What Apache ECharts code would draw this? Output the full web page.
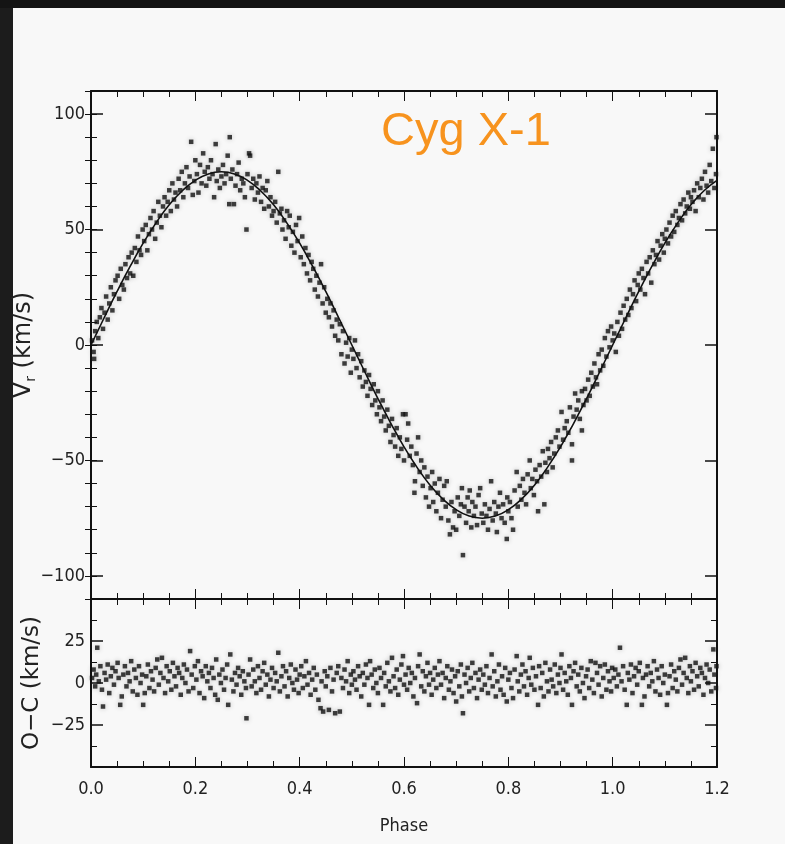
<!DOCTYPE html>
<html>
<head>
<meta charset="utf-8">
<script src="https://cdn.jsdelivr.net/npm/echarts@6/dist/echarts.min.js"></script>
<style>
html,body{margin:0;padding:0;background:#161616;}
#chart{width:785px;height:844px;}
</style>
</head>
<body>
<div id="chart"></div>
<script>
// ---- Data ----
const titleText = 'Cyg X-1';
const phaseTicks = [0.0, 0.2, 0.4, 0.6, 0.8, 1.0, 1.2];
const vrTicks = [-100, -50, 0, 50, 100];
const ocTicks = [-25, 0, 25];

// Fitted orbital curve (phase, km/s)
const curvePhase = [0,0.025,0.05,0.075,0.1,0.125,0.15,0.175,0.2,0.225,0.25,0.275,0.3,0.325,0.35,0.375,0.4,0.425,0.45,0.475,0.5,0.525,0.55,0.575,0.6,0.625,0.65,0.675,0.7,0.725,0.75,0.775,0.8,0.825,0.85,0.875,0.9,0.925,0.95,0.975,1.0,1.025,1.05,1.075,1.1,1.125,1.15,1.175,1.2];
const curveVr = [0,11.7,23.2,34,44.1,53,60.7,66.8,71.3,74.1,75,74.1,71.3,66.8,60.7,53,44.1,34,23.2,11.7,0,-11.7,-23.2,-34,-44.1,-53,-60.7,-66.8,-71.3,-74.1,-75,-74.1,-71.3,-66.8,-60.7,-53,-44.1,-34,-23.2,-11.7,0,11.7,23.2,34,44.1,53,60.7,66.8,71.3];

// Observed radial velocities (phase, km/s)
const vrPoints = [
[0.002,2],[0.005,-3],[0.006,-6],[0.008,6],[0.011,10],[0.014,3],[0.017,12],[0.02,16],[0.023,7],[0.026,14],[0.029,21],[0.032,11],[0.035,18],[0.038,25],[0.041,15],[0.044,22],[0.047,28],
[0.051,30],[0.054,20],[0.057,33],[0.06,26],[0.063,24],[0.066,35],[0.069,29],[0.072,38],[0.075,31],[0.078,40],[0.081,30],[0.084,42],[0.087,36],[0.09,47],[0.093,41],[0.096,39],[0.099,50],
[0.102,45],[0.105,52],[0.108,41],[0.111,48],[0.114,55],[0.117,50],[0.12,58],[0.123,46],[0.126,53],[0.129,62],[0.132,56],[0.135,51],[0.138,60],[0.141,64],[0.144,56],[0.147,62],[0.15,67],
[0.153,58],[0.156,70],[0.159,63],[0.162,66],[0.165,60],[0.168,72],[0.171,67],[0.174,75],[0.177,64],[0.18,70],[0.183,77],[0.186,68],[0.189,73],[0.192,88],[0.195,65],[0.198,71],[0.2,80],
[0.203,74],[0.206,66],[0.209,78],[0.212,70],[0.215,83],[0.218,75],[0.221,69],[0.224,77],[0.227,72],[0.23,80],[0.233,74],[0.236,64],[0.239,87],[0.241,71],[0.244,76],[0.247,68],[0.25,73],
[0.253,78],[0.256,70],[0.259,74],[0.262,82],[0.265,61],[0.266,90],[0.268,72],[0.271,76],[0.274,61],[0.277,69],[0.28,74],[0.283,79],[0.286,67],[0.289,72],[0.292,70],[0.295,64],[0.298,50],[0.3,74],
[0.303,83],[0.305,82],[0.308,68],[0.311,72],[0.314,63],[0.317,70],[0.32,66],[0.323,73],[0.326,62],[0.329,68],[0.332,59],[0.335,67],[0.338,71],[0.341,60],[0.344,64],[0.347,56],[0.35,58],
[0.353,62],[0.356,53],[0.359,75],[0.362,57],[0.365,59],[0.367,50],[0.37,54],[0.373,46],[0.376,58],[0.379,51],[0.381,56],[0.384,43],[0.387,49],[0.39,40],[0.393,52],[0.396,45],[0.399,55],
[0.402,38],[0.405,47],[0.408,35],[0.411,42],[0.414,31],[0.417,39],[0.42,28],[0.423,36],[0.426,33],[0.429,24],[0.432,30],[0.435,21],[0.438,27],[0.441,35],[0.444,18],[0.447,25],[0.45,14],
[0.453,20],[0.456,12],[0.459,18],[0.462,8],[0.465,15],[0.468,4],[0.471,11],[0.474,2],[0.477,9],[0.48,-4],[0.483,6],[0.486,-8],[0.489,1],[0.492,-5],[0.495,3],[0.498,-12],[0.5,-2],
[0.503,-6],[0.506,2],[0.509,-10],[0.512,-4],[0.515,-14],[0.518,-7],[0.521,-18],[0.524,-11],[0.527,-16],[0.53,-22],[0.533,-13],[0.536,-19],[0.539,-26],[0.542,-17],[0.545,-24],[0.548,-30],[0.55,-20],
[0.553,-27],[0.556,-33],[0.559,-24],[0.562,-31],[0.565,-37],[0.568,-28],[0.571,-35],[0.574,-42],[0.577,-32],[0.58,-39],[0.583,-44],[0.586,-36],[0.589,-48],[0.592,-40],[0.595,-45],[0.598,-30],[0.6,-50],
[0.603,-30],[0.606,-41],[0.608,-34],[0.611,-48],[0.614,-44],[0.617,-52],[0.62,-64],[0.621,-59],[0.624,-47],[0.627,-40],[0.63,-55],[0.633,-50],[0.636,-61],[0.639,-53],[0.642,-66],[0.645,-57],[0.648,-70],
[0.651,-62],[0.654,-55],[0.656,-68],[0.659,-60],[0.662,-72],[0.665,-64],[0.668,-58],[0.671,-75],[0.674,-67],[0.677,-61],[0.68,-70],[0.682,-59],[0.685,-76],[0.688,-82],[0.691,-68],[0.694,-79],[0.697,-72],[0.7,-80],
[0.703,-66],[0.706,-74],[0.709,-69],[0.711,-62],[0.713,-91],[0.716,-70],[0.719,-77],[0.722,-66],[0.724,-72],[0.726,-63],[0.729,-79],[0.731,-68],[0.734,-74],[0.737,-70],[0.74,-78],[0.743,-65],[0.746,-62],[0.749,-73],
[0.752,-77],[0.755,-69],[0.758,-74],[0.761,-80],[0.764,-71],[0.767,-59],[0.77,-76],[0.773,-68],[0.776,-73],[0.778,-81],[0.781,-70],[0.784,-64],[0.787,-75],[0.79,-69],[0.793,-77],[0.797,-84],[0.798,-66],[0.8,-72],
[0.803,-68],[0.806,-75],[0.809,-80],[0.812,-63],[0.816,-55],[0.818,-70],[0.822,-61],[0.825,-67],[0.828,-58],[0.831,-64],[0.834,-69],[0.837,-56],[0.841,-50],[0.843,-62],[0.846,-58],[0.849,-65],
[0.852,-54],[0.855,-59],[0.857,-72],[0.86,-52],[0.863,-57],[0.866,-46],[0.869,-69],[0.871,-51],[0.874,-55],[0.876,-45],[0.879,-49],[0.882,-42],[0.885,-53],[0.888,-47],[0.891,-40],[0.895,-37],[0.898,-44],
[0.902,-29],[0.905,-41],[0.908,-36],[0.912,-33],[0.915,-38],[0.918,-27],[0.922,-43],[0.922,-50],[0.925,-31],[0.928,-21],[0.931,-28],[0.934,-24],[0.937,-32],[0.941,-37],[0.941,-20],[0.944,-26],[0.947,-19],[0.95,-24],
[0.953,-15],[0.956,-22],[0.959,-12],[0.962,-18],[0.965,-8],[0.968,-14],[0.97,-17],[0.973,-4],[0.976,-11],[0.979,-2],[0.982,-9],[0.985,3],[0.988,-5],[0.991,6],[0.994,-1],[0.997,8],[1.0,2],
[1.003,5],[1.006,-3],[1.009,10],[1.012,4],[1.015,14],[1.018,7],[1.021,17],[1.024,11],[1.027,20],[1.03,13],[1.033,24],[1.036,16],[1.039,22],[1.042,28],[1.045,19],[1.048,26],[1.05,31],
[1.053,24],[1.056,33],[1.059,29],[1.062,22],[1.065,36],[1.068,31],[1.071,38],[1.074,27],[1.077,41],[1.08,35],[1.083,39],[1.086,45],[1.089,37],[1.092,43],[1.095,48],[1.098,40],[1.1,46],
[1.103,50],[1.106,44],[1.109,53],[1.112,47],[1.115,56],[1.118,49],[1.121,58],[1.124,52],[1.127,55],[1.13,61],[1.133,54],[1.136,63],[1.139,57],[1.142,60],[1.145,66],[1.148,59],[1.15,64],
[1.153,62],[1.156,67],[1.159,58],[1.162,70],[1.165,64],[1.168,68],[1.171,72],[1.174,63],[1.177,75],[1.18,69],[1.183,66],[1.186,78],[1.189,71],[1.192,85],[1.195,68],[1.198,74],[1.199,90]
];

// Residuals O-C (phase, km/s)
const ocPoints = [
[0.002,3],[0.005,8],[0.008,-2],[0.01,5],[0.012,21],[0.015,1],[0.018,10],[0.021,-4],[0.023,-14],[0.026,6],[0.029,2],[0.032,11],[0.035,-6],[0.038,4],[0.041,9],[0.044,-1],[0.047,7],
[0.051,12],[0.053,3],[0.056,-13],[0.059,-8],[0.062,5],[0.065,10],[0.068,-2],[0.071,6],[0.074,1],[0.077,13],[0.08,-5],[0.083,8],[0.086,3],[0.089,-7],[0.092,10],[0.095,0],[0.098,5],
[0.1,-13],[0.103,-6],[0.106,4],[0.109,11],[0.112,-3],[0.115,7],[0.118,2],[0.121,-5],[0.124,9],[0.127,14],[0.13,-1],[0.133,6],[0.136,15],[0.139,3],[0.142,-6],[0.145,10],[0.148,1],
[0.151,7],[0.154,-4],[0.157,12],[0.16,4],[0.163,-2],[0.166,9],[0.169,6],[0.172,-7],[0.175,3],[0.178,11],[0.181,0],[0.184,8],[0.187,-5],[0.19,19],[0.193,5],[0.196,-3],[0.199,10],
[0.202,2],[0.205,13],[0.208,-6],[0.211,7],[0.214,4],[0.217,-9],[0.22,10],[0.223,1],[0.226,6],[0.229,-3],[0.232,9],[0.235,3],[0.238,-7],[0.24,14],[0.243,-10],[0.246,5],[0.249,0],
[0.252,8],[0.255,-4],[0.258,3],[0.261,11],[0.263,-13],[0.267,17],[0.27,2],[0.273,-5],[0.276,6],[0.279,-1],[0.282,9],[0.285,4],[0.288,-7],[0.291,7],[0.294,1],[0.297,-3],[0.298,-21],
[0.302,5],[0.305,14],[0.308,-2],[0.311,8],[0.314,1],[0.317,-6],[0.32,10],[0.323,3],[0.326,-4],[0.329,7],[0.332,12],[0.335,-1],[0.338,5],[0.341,-8],[0.344,2],[0.347,9],[0.35,-3],
[0.353,6],[0.356,1],[0.359,18],[0.362,-5],[0.365,4],[0.368,10],[0.371,-2],[0.374,7],[0.377,-8],[0.38,3],[0.383,11],[0.386,0],[0.389,-4],[0.392,8],[0.395,2],[0.398,-6],[0.4,5],
[0.403,10],[0.406,-3],[0.409,4],[0.412,13],[0.415,-1],[0.418,6],[0.421,-7],[0.424,2],[0.427,9],[0.43,-4],[0.433,5],[0.436,-10],[0.44,-15],[0.442,1],[0.445,-17],[0.448,7],[0.45,-2],
[0.453,4],[0.456,-16],[0.459,9],[0.462,-5],[0.465,2],[0.468,-18],[0.471,6],[0.474,10],[0.477,-17],[0.48,3],[0.483,-3],[0.486,8],[0.489,1],[0.492,13],[0.495,-6],[0.498,5],[0.5,-1],
[0.503,7],[0.506,2],[0.509,-4],[0.512,10],[0.515,4],[0.518,-8],[0.521,6],[0.524,-1],[0.527,11],[0.53,3],[0.533,-13],[0.535,13],[0.538,5],[0.541,-3],[0.544,8],[0.547,0],[0.55,-6],
[0.553,9],[0.556,3],[0.56,-13],[0.562,6],[0.565,-2],[0.568,12],[0.571,1],[0.574,-5],[0.577,15],[0.58,4],[0.583,-3],[0.586,8],[0.589,-7],[0.592,2],[0.595,11],[0.598,16],[0.6,-1],
[0.603,5],[0.606,-4],[0.609,9],[0.612,0],[0.615,6],[0.618,-8],[0.621,3],[0.625,-12],[0.627,10],[0.63,17],[0.633,-2],[0.636,7],[0.639,-5],[0.642,4],[0.645,12],[0.648,-1],[0.65,6],
[0.653,-7],[0.656,2],[0.659,9],[0.662,-3],[0.665,5],[0.668,13],[0.671,-1],[0.674,6],[0.677,-9],[0.68,3],[0.683,10],[0.686,-4],[0.689,1],[0.692,8],[0.695,-6],[0.698,4],[0.7,-11],
[0.703,7],[0.706,-2],[0.709,11],[0.711,-8],[0.713,-18],[0.716,5],[0.719,0],[0.722,9],[0.725,-5],[0.728,3],[0.731,12],[0.734,-3],[0.737,6],[0.74,-9],[0.743,2],[0.746,8],[0.749,-4],
[0.752,5],[0.755,-1],[0.758,10],[0.761,-6],[0.764,3],[0.768,17],[0.77,-2],[0.773,7],[0.776,-8],[0.779,1],[0.782,11],[0.785,-4],[0.788,4],[0.791,-7],[0.794,9],[0.797,-11],[0.8,2],
[0.803,6],[0.806,-3],[0.809,-9],[0.812,8],[0.816,16],[0.818,1],[0.821,-5],[0.824,5],[0.827,11],[0.83,-2],[0.833,7],[0.836,-7],[0.839,3],[0.841,15],[0.844,-1],[0.847,9],[0.85,-4],
[0.853,4],[0.857,-13],[0.859,10],[0.862,-3],[0.865,6],[0.868,-8],[0.871,12],[0.874,1],[0.877,-5],[0.88,8],[0.883,2],[0.886,-2],[0.889,11],[0.892,-6],[0.895,5],[0.898,0],[0.9,9],
[0.902,17],[0.905,-4],[0.908,6],[0.911,1],[0.914,-7],[0.917,10],[0.92,3],[0.922,-13],[0.925,7],[0.928,12],[0.931,-2],[0.934,5],[0.937,-5],[0.94,9],[0.943,0],[0.946,-9],[0.949,4],
[0.952,8],[0.955,-3],[0.958,13],[0.961,2],[0.964,-6],[0.967,12],[0.97,6],[0.973,-1],[0.976,10],[0.979,-8],[0.982,3],[0.985,11],[0.988,-4],[0.991,7],[0.994,1],[0.997,-5],[0.999,9],
[1.002,3],[1.005,8],[1.008,-2],[1.011,5],[1.014,21],[1.017,1],[1.02,10],[1.023,-4],[1.027,-13],[1.029,6],[1.032,2],[1.035,11],[1.038,-6],[1.041,4],[1.044,9],[1.047,-1],[1.05,7],
[1.052,12],[1.056,-13],[1.058,3],[1.061,-8],[1.064,5],[1.067,10],[1.07,-2],[1.073,6],[1.076,1],[1.079,13],[1.082,-5],[1.085,8],[1.088,3],[1.091,-7],[1.094,10],[1.097,0],[1.1,5],
[1.104,-13],[1.106,-6],[1.109,4],[1.112,11],[1.115,-3],[1.118,7],[1.121,2],[1.124,-5],[1.127,9],[1.13,14],[1.133,-1],[1.136,6],[1.139,15],[1.142,3],[1.145,-6],[1.148,10],[1.15,1],
[1.153,7],[1.156,-4],[1.159,12],[1.162,4],[1.165,-2],[1.168,9],[1.171,6],[1.174,-7],[1.177,3],[1.18,11],[1.183,0],[1.186,8],[1.189,-5],[1.193,20],[1.195,5],[1.198,-3],[1.199,10]
];

// ---- Chart ----
const FONT = "'DejaVu Sans Condensed','Liberation Sans Narrow','Liberation Sans',sans-serif";
const NAMEFONT = "'DejaVu Sans','Liberation Sans',sans-serif";
const INK = '#111';
const chart = echarts.init(document.getElementById('chart'), null, {renderer: 'canvas'});

const lineStyleAxis = {color: INK, width: 2};
const majorLen = 12, minorLen = 6;

function xAx(gridIndex, position, showLabels) {
  return {
    type: 'value', gridIndex, position, min: 0, max: 1.2, interval: 0.2,
    axisLine: {show: true, onZero: false, lineStyle: lineStyleAxis},
    axisTick: {show: true, inside: true, length: 10, lineStyle: {color: INK, width: 1}},
    minorTick: {show: true, splitNumber: 4, length: minorLen, lineStyle: {color: INK, width: 1}},
    splitLine: {show: false}, minorSplitLine: {show: false},
    axisLabel: {show: showLabels, margin: 13, fontFamily: FONT, fontSize: 18, color: '#222',
      formatter: v => { const t = phaseTicks.find(p => Math.abs(p - v) < 1e-6); return t === undefined ? '' : t.toFixed(1); }},
    name: showLabels ? 'Phase' : '', nameLocation: 'middle', nameGap: 50, nameMoveOverlap: false,
    nameTextStyle: {fontFamily: FONT, fontSize: 18, color: '#222'}
  };
}

const option = {
  backgroundColor: '#1c1c1c',
  animation: false,
  graphic: [
    {type: 'rect', left: 0, top: 0, shape: {width: 785, height: 8}, style: {fill: '#141414'}, z: -10},
    {type: 'rect', left: 13, top: 8, shape: {width: 772, height: 836}, style: {fill: '#f8f8f8'}, z: -10}
  ],
  title: {
    text: titleText, left: 376, top: 104,
    textStyle: {color: '#f7931e', fontSize: 47, fontWeight: 'normal', fontFamily: "'Liberation Sans',Arial,sans-serif"}
  },
  grid: [
    {left: 91, top: 91, width: 626, height: 508, show: false, containLabel: false, outerBoundsMode: 'none'},
    {left: 91, top: 599, width: 626, height: 168, show: false, containLabel: false, outerBoundsMode: 'none'}
  ],
  xAxis: [
    xAx(0, 'bottom', false),
    xAx(0, 'top', false),
    xAx(1, 'bottom', true),
    xAx(1, 'top', false)
  ],
  yAxis: [
    { // 0: top panel left, major ticks + labels
      type: 'value', gridIndex: 0, position: 'left', min: -110, max: 110,
      axisLine: {show: true, onZero: false, lineStyle: lineStyleAxis},
      axisTick: {show: true, inside: true, length: majorLen, customValues: vrTicks, lineStyle: {color: INK, width: 1.5}},
      axisLabel: {show: true, customValues: vrTicks, margin: 6, fontFamily: FONT, fontSize: 18, color: '#222',
        formatter: v => String(v).replace('-', '\u2212')},
      splitLine: {show: false},
      name: 'V{s|r} (km/s)', nameLocation: 'middle', nameGap: 53, nameRotate: 90, nameMoveOverlap: false,
      nameTextStyle: {fontFamily: NAMEFONT, fontSize: 24, color: '#222',
        rich: {s: {fontFamily: NAMEFONT, fontSize: 14, color: '#222', verticalAlign: 'bottom', lineHeight: 28}}}
    },
    { // 1: top panel left, minor ticks
      type: 'value', gridIndex: 0, position: 'left', min: -110, max: 110, interval: 10,
      axisLine: {show: false},
      axisTick: {show: true, inside: true, length: minorLen, lineStyle: {color: INK, width: 1}},
      axisLabel: {show: false}, splitLine: {show: false}
    },
    { // 2: top panel right, major
      type: 'value', gridIndex: 0, position: 'right', min: -110, max: 110,
      axisLine: {show: true, onZero: false, lineStyle: lineStyleAxis},
      axisTick: {show: true, inside: true, length: majorLen, customValues: vrTicks, lineStyle: {color: INK, width: 1.5}},
      axisLabel: {show: false}, splitLine: {show: false}
    },
    { // 3: top panel right, minor
      type: 'value', gridIndex: 0, position: 'right', min: -110, max: 110, interval: 10,
      axisLine: {show: false},
      axisTick: {show: true, inside: true, length: minorLen, lineStyle: {color: INK, width: 1}},
      axisLabel: {show: false}, splitLine: {show: false}
    },
    { // 4: residual panel left
      type: 'value', gridIndex: 1, position: 'left', min: -50, max: 50, interval: 25,
      axisLine: {show: true, onZero: false, lineStyle: lineStyleAxis},
      axisTick: {show: true, inside: true, length: majorLen, lineStyle: {color: INK, width: 1.5}},
      minorTick: {show: true, splitNumber: 2, length: minorLen, lineStyle: {color: INK, width: 1}},
      axisLabel: {show: true, margin: 6, fontFamily: FONT, fontSize: 18, color: '#222',
        formatter: v => ocTicks.indexOf(v) >= 0 ? String(v).replace('-', '\u2212') : ''},
      splitLine: {show: false}, minorSplitLine: {show: false},
      name: 'O\u2212C (km/s)', nameLocation: 'middle', nameGap: 47, nameRotate: 90, nameMoveOverlap: false,
      nameTextStyle: {fontFamily: NAMEFONT, fontSize: 23, color: '#222'}
    },
    { // 5: residual panel right
      type: 'value', gridIndex: 1, position: 'right', min: -50, max: 50, interval: 25,
      axisLine: {show: true, onZero: false, lineStyle: lineStyleAxis},
      axisTick: {show: true, inside: true, length: majorLen, lineStyle: {color: INK, width: 1.5}},
      minorTick: {show: true, splitNumber: 2, length: minorLen, lineStyle: {color: INK, width: 1}},
      axisLabel: {show: false}, splitLine: {show: false}, minorSplitLine: {show: false}
    }
  ],
  series: [
    {
      type: 'scatter', xAxisIndex: 0, yAxisIndex: 0, data: vrPoints,
      symbol: 'rect', symbolSize: [4.5, 4.5],
      itemStyle: {color: INK, shadowBlur: 5, shadowColor: 'rgba(0,0,0,0.3)'},
      silent: true, z: 3
    },
    {
      type: 'line', xAxisIndex: 0, yAxisIndex: 0,
      data: curvePhase.map((p, i) => [p, curveVr[i]]),
      smooth: true, showSymbol: false, symbol: 'none',
      lineStyle: {color: INK, width: 1.6}, silent: true, z: 4
    },
    {
      type: 'scatter', xAxisIndex: 2, yAxisIndex: 4, data: ocPoints,
      symbol: 'rect', symbolSize: [4.5, 4.5],
      itemStyle: {color: INK, shadowBlur: 5, shadowColor: 'rgba(0,0,0,0.3)'},
      silent: true, z: 3
    }
  ]
};
chart.setOption(option);
</script>
</body>
</html>
